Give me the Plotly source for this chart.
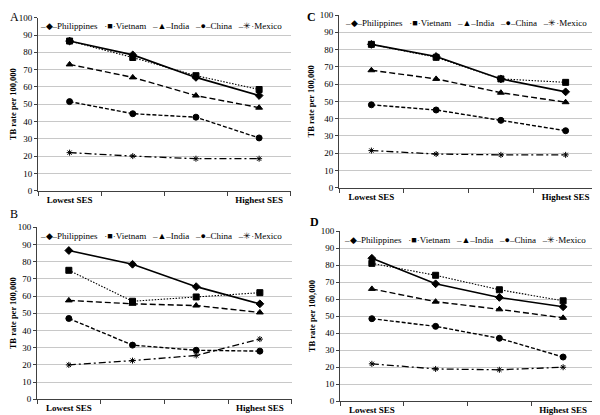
import plotly.graph_objects as go

levels = [1, 2, 3, 4]
level_labels = ["Lowest SES", "", "", "Highest SES"]
countries = ["Philippines", "Vietnam", "India", "China", "Mexico"]
legend_keys = ["–◆–", "·■·", "–▲–", "–●–", "–✳·"]

# Panel A
a_philippines = [86.5, 78.5, 65.5, 55.0]
a_vietnam = [86.5, 77.0, 66.5, 58.5]
a_india = [73.0, 65.5, 55.0, 48.0]
a_china = [51.5, 44.5, 42.5, 30.5]
a_mexico = [22.0, 20.0, 18.5, 18.5]

# Panel B
b_philippines = [86.5, 78.5, 65.5, 55.5]
b_vietnam = [75.0, 57.0, 59.5, 62.0]
b_india = [57.5, 55.5, 54.5, 50.5]
b_china = [47.0, 31.5, 28.5, 28.0]
b_mexico = [20.0, 22.5, 25.5, 35.0]

# Panel C
c_philippines = [83.0, 76.0, 63.0, 55.5]
c_vietnam = [83.0, 75.5, 63.0, 61.0]
c_india = [68.0, 63.0, 55.0, 49.5]
c_china = [48.0, 45.0, 39.0, 33.0]
c_mexico = [21.5, 19.5, 19.0, 19.0]

# Panel D
d_philippines = [84.0, 69.0, 61.0, 55.5]
d_vietnam = [81.0, 74.0, 65.5, 59.0]
d_india = [66.0, 58.5, 54.0, 49.0]
d_china = [48.5, 44.0, 37.0, 26.0]
d_mexico = [22.0, 19.0, 18.5, 20.0]

panels = {
    "A": [a_philippines, a_vietnam, a_india, a_china, a_mexico],
    "B": [b_philippines, b_vietnam, b_india, b_china, b_mexico],
    "C": [c_philippines, c_vietnam, c_india, c_china, c_mexico],
    "D": [d_philippines, d_vietnam, d_india, d_china, d_mexico],
}

# page has an 8px body margin: figure occupies page px 8..600 / 8..415
OFF = 8
W, H = 600 - OFF, 415 - OFF


def px(x):
    return (x - OFF) / W


def py(y):
    return 1 - (y - OFF) / H


# page-pixel boxes: left, right, top, bottom
boxes = {
    "A": (38, 290.7, 17.7, 190.7),
    "C": (339, 598, 15, 187.7),
    "B": (37, 291.7, 227.3, 399.3),
    "D": (340, 595, 231, 401.3),
}
letter_pos = {"A": (8, 8, False), "C": (305, 8, True), "B": (8, 205, False), "D": (308, 213, True)}

styles = [
    dict(dash="solid", width=1.6, symbol="diamond", size=6),
    dict(dash="1.5px,1.5px", width=1.1, symbol="square", size=6),
    dict(dash="6px,3px", width=1.4, symbol="triangle-up", size=6),
    dict(dash="4px,2px", width=1.4, symbol="circle", size=6),
    dict(dash="7px,3px,2px,3px", width=1.3, symbol="asterisk-open", size=5),
]

font = "Liberation Serif"
fig = go.Figure()
layout = dict(
    width=W, height=H, margin=dict(l=0, r=0, t=0, b=0, pad=0, autoexpand=False),
    paper_bgcolor="white", plot_bgcolor="white",
    font=dict(family=font, size=9, color="black"),
    annotations=[], showlegend=False,
)

legend_text = "&nbsp;&nbsp;&nbsp;".join(
    k + n for k, n in zip(legend_keys, countries))

for i, key in enumerate(["A", "B", "C", "D"]):
    n = "" if i == 0 else str(i + 1)
    xa, ya = "x" + n, "y" + n
    l, r, t, b = boxes[key]
    for ci, (name, vals) in enumerate(zip(countries, panels[key])):
        s = styles[ci]
        fig.add_trace(go.Scatter(
            x=levels, y=vals, name=name, mode="lines+markers",
            line=dict(color="black", dash=s["dash"], width=s["width"]),
            marker=dict(symbol=s["symbol"], size=s["size"], color="black",
                        line=dict(color="black", width=1)),
            xaxis=xa, yaxis=ya,
        ))
    layout["xaxis" + n] = dict(
        domain=[px(l), px(r)], anchor=ya, range=[0.5, 4.5],
        tickvals=levels, ticktext=level_labels, ticks="",
        tickfont=dict(family=font, size=9, color="black", weight="bold"),
        showline=True, linecolor="#404040", linewidth=1, showgrid=False, zeroline=False,
        minor=dict(tickvals=[0.5, 1.5, 2.5, 3.5, 4.5], ticks="outside", ticklen=4,
                   tickcolor="#404040", showgrid=False),
        automargin=False,
    )
    layout["yaxis" + n] = dict(
        domain=[py(b), py(t)], anchor=xa, range=[0, 100], dtick=10,
        ticks="outside", ticklen=3, tickcolor="#404040",
        showline=True, linecolor="#404040", linewidth=1,
        showgrid=True, gridcolor="#c8c8c8", gridwidth=1, zeroline=False,
        tickfont=dict(family=font, size=9, color="black"),
        automargin=False,
        title=dict(text="TB rate per 100,000", standoff=3,
                   font=dict(family=font, size=8.5, color="black", weight="bold")),
    )
    # in-plot legend row
    layout["annotations"].append(dict(
        text=legend_text, x=px((l + r) / 2 - 3), y=py(t + 8.5),
        xref="paper", yref="paper", xanchor="center", yanchor="middle",
        showarrow=False, bgcolor="white", borderpad=1,
        font=dict(family=font, size=9, color="black"),
    ))
    lx, ly, bold = letter_pos[key]
    layout["annotations"].append(dict(
        text=key, x=px(lx), y=py(ly), xref="paper", yref="paper",
        xanchor="left", yanchor="top", showarrow=False,
        font=dict(family=font, size=12, color="black", weight="bold" if bold else "normal"),
    ))

fig.update_layout(**layout)
fig.write_html("out.html")
